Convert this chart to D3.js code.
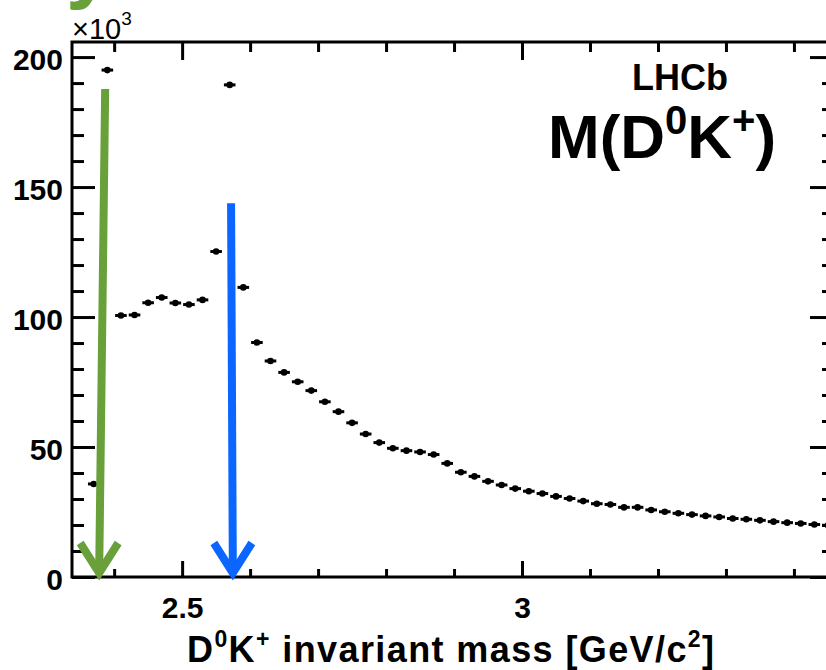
<!DOCTYPE html>
<html>
<head>
<meta charset="utf-8">
<script src="https://cdn.jsdelivr.net/npm/d3@7"></script>
<style>
body { margin: 0; background: #fff; }
svg text { font-family: "Liberation Sans", Arial, Helvetica, sans-serif; font-weight: bold; fill: #000; }
</style>
</head>
<body>
<svg id="chart" width="826" height="670"></svg>
<script>
// bin centres in GeV/c^2 (bin width 0.02)
var massCenters = [2.37, 2.39, 2.41, 2.43, 2.45, 2.47, 2.49, 2.51, 2.53, 2.55,
	2.57, 2.59, 2.61, 2.63, 2.65, 2.67, 2.69, 2.71, 2.73, 2.75,
	2.77, 2.79, 2.81, 2.83, 2.85, 2.87, 2.89, 2.91, 2.93, 2.95,
	2.97, 2.99, 3.01, 3.03, 3.05, 3.07, 3.09, 3.11, 3.13, 3.15,
	3.17, 3.19, 3.21, 3.23, 3.25, 3.27, 3.29, 3.31, 3.33, 3.35,
	3.37, 3.39, 3.41, 3.43, 3.45];
// candidates per bin, x10^3
var counts = [35.8, 195.0, 100.6, 100.8, 105.5, 107.5, 105.4, 104.8, 106.6, 125.2,
	189.3, 111.4, 90.2, 83.1, 78.7, 75.1, 71.7, 67.4, 63.6, 59.3,
	55.0, 51.7, 49.5, 48.6, 48.1, 47.1, 43.7, 40.3, 38.7, 36.8,
	35.4, 34.0, 33.0, 32.1, 31.0, 30.2, 29.2, 28.2, 27.9, 26.8,
	26.8, 25.8, 25.1, 24.5, 24.0, 23.5, 23.1, 22.5, 22.2, 21.8,
	21.3, 20.9, 20.6, 20.2, 19.9];
var binWidth = 0.02;

var xMajorTicks = [2.5, 3];
var xMinorTicks = [2.4, 2.6, 2.7, 2.8, 2.9, 3.1, 3.2, 3.3, 3.4];
var yMajorTicks = [0, 50, 100, 150, 200];
var yMinorTicks = [10, 20, 30, 40, 60, 70, 80, 90, 110, 120, 130, 140, 160, 170, 180, 190];

// annotation arrows: top point -> tip on the axis
var arrowMassTop = [2.3868, 2.572];
var arrowMassTip = [2.378, 2.5746];
var arrowTop = [187.7, 143.8];
var arrowColors = ["#69a03a", "#0a66ff"];

var svg = d3.select("#chart");
var x = d3.scaleLinear().domain([2.338, 3.456]).range([72, 832]);
var y = d3.scaleLinear().domain([0, 205.8]).range([577, 42]);
var x0 = x.range()[0], x1 = x.range()[1], y0 = y.range()[0], y1 = y.range()[1];

// cut-off green title letter at the very top
svg.append("text")
	.attr("x", 66)
	.attr("y", -7)
	.style("font-size", "84px")
	.style("fill", "#69a03a")
	.text("y");

function styleAxis(g) {
	g.select(".domain").remove();
	g.selectAll("line").attr("stroke", "#000").attr("stroke-width", 3);
	g.selectAll("text").style("font-size", "30px");
}

// bottom axis
svg.append("g").attr("transform", "translate(0," + y0 + ")")
	.call(d3.axisBottom(x).tickValues(xMajorTicks).tickSize(-16).tickPadding(20).tickFormat(d3.format("")))
	.call(styleAxis);
svg.append("g").attr("transform", "translate(0," + y0 + ")")
	.call(d3.axisBottom(x).tickValues(xMinorTicks).tickSize(-8).tickFormat(""))
	.call(styleAxis);
// top axis
svg.append("g").attr("transform", "translate(0," + y1 + ")")
	.call(d3.axisTop(x).tickValues(xMajorTicks).tickSize(-18).tickFormat(""))
	.call(styleAxis);
svg.append("g").attr("transform", "translate(0," + y1 + ")")
	.call(d3.axisTop(x).tickValues(xMinorTicks).tickSize(-10).tickFormat(""))
	.call(styleAxis);
// left axis
svg.append("g").attr("transform", "translate(" + x0 + ",0)")
	.call(d3.axisLeft(y).tickValues(yMajorTicks).tickSize(-23).tickPadding(9).tickFormat(d3.format("d")))
	.call(styleAxis)
	.selectAll("text").attr("dy", "0.42em");
svg.append("g").attr("transform", "translate(" + x0 + ",0)")
	.call(d3.axisLeft(y).tickValues(yMinorTicks).tickSize(-12).tickFormat(""))
	.call(styleAxis);
// right axis
svg.append("g").attr("transform", "translate(" + x1 + ",0)")
	.call(d3.axisRight(y).tickValues(yMajorTicks).tickSize(-22).tickFormat(""))
	.call(styleAxis);
svg.append("g").attr("transform", "translate(" + x1 + ",0)")
	.call(d3.axisRight(y).tickValues(yMinorTicks).tickSize(-10).tickFormat(""))
	.call(styleAxis);

// frame
svg.append("rect")
	.attr("x", x0).attr("y", y1)
	.attr("width", x1 - x0).attr("height", y0 - y1)
	.attr("fill", "none").attr("stroke", "#000").attr("stroke-width", 3);

// x10^3 multiplier
var mult = svg.append("text").attr("x", 72).attr("y", 39).style("font-size", "29px").style("font-weight", "normal");
mult.append("tspan").text("\u00d710");
mult.append("tspan").attr("dy", -14).style("font-size", "19px").text("3");

// data points with horizontal bin-width bars
var pts = svg.append("g").attr("class", "points");
massCenters.forEach(function(m, i) {
	pts.append("line")
		.attr("x1", x(m - binWidth / 2) + 1).attr("x2", x(m + binWidth / 2) - 1)
		.attr("y1", y(counts[i])).attr("y2", y(counts[i]))
		.attr("stroke", "#000").attr("stroke-width", 3);
	pts.append("circle")
		.attr("cx", x(m)).attr("cy", y(counts[i]))
		.attr("r", 3.3).attr("fill", "#000");
});

// arrows
arrowColors.forEach(function(c, i) {
	var tx = x(arrowMassTip[i]), ty = y(0) - 2;
	svg.append("line")
		.attr("x1", x(arrowMassTop[i])).attr("y1", y(arrowTop[i]))
		.attr("x2", tx).attr("y2", ty - 4)
		.attr("stroke", c).attr("stroke-width", 8);
	svg.append("path")
		.attr("d", "M" + (tx - 19) + "," + (ty - 32) + "L" + tx + "," + (ty - 2) + "L" + (tx + 19) + "," + (ty - 32))
		.attr("fill", "none").attr("stroke", c).attr("stroke-width", 8)
		.attr("stroke-linejoin", "miter");
});

// axis title
var xt = svg.append("text").attr("x", 187).attr("y", 662)
	.style("font-size", "36px").style("letter-spacing", "1.4px");
xt.append("tspan").text("D");
xt.append("tspan").attr("dy", -15).style("font-size", "23px").text("0");
xt.append("tspan").attr("dy", 15).text("K");
xt.append("tspan").attr("dy", -15).style("font-size", "23px").text("+");
xt.append("tspan").attr("dy", 15).text(" invariant mass [GeV/c");
xt.append("tspan").attr("dy", -15).style("font-size", "23px").text("2");
xt.append("tspan").attr("dy", 15).text("]");

// labels
svg.append("text").attr("x", 632).attr("y", 90).style("font-size", "36px").text("LHCb");
var lab = svg.append("text").attr("x", 548).attr("y", 158).style("font-size", "62px");
lab.append("tspan").text("M(D");
lab.append("tspan").attr("dy", -24).style("font-size", "40px").text("0");
lab.append("tspan").attr("dy", 24).text("K");
lab.append("tspan").attr("dy", -24).style("font-size", "40px").text("+");
lab.append("tspan").attr("dy", 24).text(")");
</script>
</body>
</html>
